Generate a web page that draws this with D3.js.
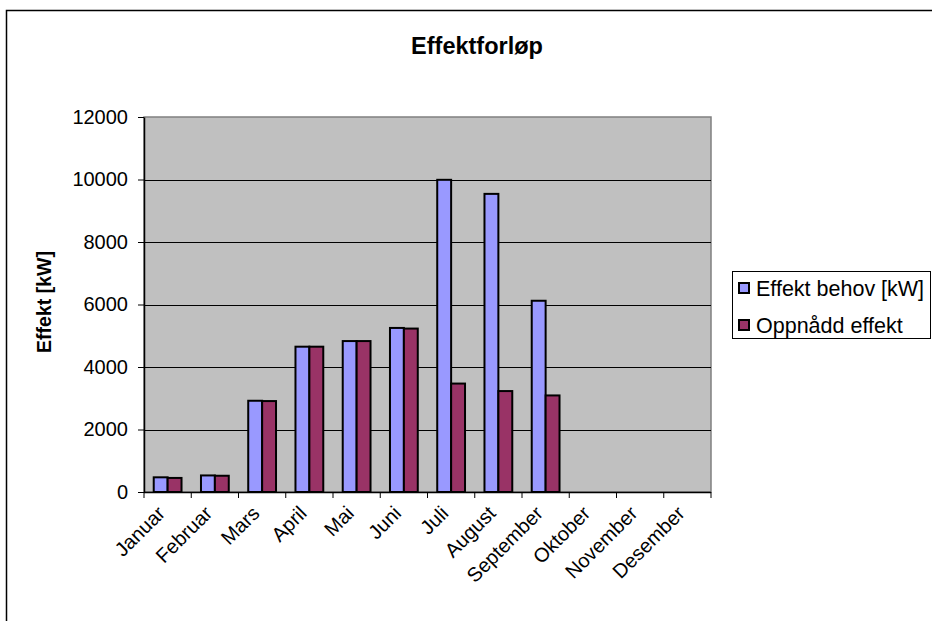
<!DOCTYPE html>
<html>
<head>
<meta charset="utf-8">
<script src="https://cdn.jsdelivr.net/npm/d3@7"></script>
<style>
  html, body { margin: 0; padding: 0; background: #fff; }
  svg { display: block; font-family: "Liberation Sans", Arial, sans-serif; }
</style>
</head>
<body>
<svg id="chart" width="932" height="621"></svg>
<script>
// Monthly power demand vs. achieved power (kW)
const months = ["Januar", "Februar", "Mars", "April", "Mai", "Juni", "Juli",
                "August", "September", "Oktober", "November", "Desember"];
const effektBehov    = [470, 530, 2920, 4650, 4830, 5250, 9990, 9540, 6120, 0, 0, 0];
const oppnaddEffekt  = [450, 520, 2910, 4650, 4830, 5230, 3470, 3230, 3090, 0, 0, 0];
const seriesNames = ["Effekt behov [kW]", "Oppnådd effekt"];
const seriesColors = ["#9999FF", "#993366"];
const yTicks = [0, 2000, 4000, 6000, 8000, 10000, 12000];

const svg = d3.select("#chart");
const plot = { left: 144, top: 117, right: 711, bottom: 492 };

// outer chart frame (runs past the right and bottom edges)
svg.append("rect")
  .attr("x", 6.5).attr("y", 10.5)
  .attr("width", 1000).attr("height", 1000)
  .attr("fill", "none").attr("stroke", "#000").attr("stroke-width", 1.5);

// title
svg.append("text")
  .attr("x", 477).attr("y", 54)
  .attr("text-anchor", "middle")
  .attr("font-size", 23.5).attr("font-weight", "bold")
  .text("Effektforløp");

const x = d3.scaleBand().domain(months).range([plot.left, plot.right]).padding(0);
const xs = d3.scaleBand().domain(seriesNames).range([0, x.bandwidth()])
  .paddingInner(0).paddingOuter(0.7);
const y = d3.scaleLinear().domain([0, 12000]).range([plot.bottom, plot.top]);

// plot area background
svg.append("rect")
  .attr("x", plot.left).attr("y", plot.top)
  .attr("width", plot.right - plot.left).attr("height", plot.bottom - plot.top)
  .attr("fill", "#C0C0C0").attr("stroke", "#808080").attr("stroke-width", 1.5);

// horizontal gridlines
svg.append("g").selectAll("line")
  .data(yTicks.filter(d => d > 0 && d < 12000))
  .join("line")
  .attr("x1", plot.left).attr("x2", plot.right)
  .attr("y1", d => Math.round(y(d)) + 0.5).attr("y2", d => Math.round(y(d)) + 0.5)
  .attr("stroke", "#000").attr("stroke-width", 1);

// bars
const data = months.map((m, i) => ({ month: m, values: [effektBehov[i], oppnaddEffekt[i]] }));
const groups = svg.append("g").selectAll("g")
  .data(data).join("g")
  .attr("transform", d => `translate(${x(d.month)},0)`);
groups.selectAll("rect")
  .data(d => d.values.map((v, j) => ({ name: seriesNames[j], value: v, color: seriesColors[j] })))
  .join("rect")
  .filter(d => d.value > 0)
  .attr("x", d => xs(d.name))
  .attr("y", d => y(d.value))
  .attr("width", xs.bandwidth())
  .attr("height", d => y(0) - y(d.value))
  .attr("fill", d => d.color)
  .attr("stroke", "#000").attr("stroke-width", 2);

// y axis
const yAxis = svg.append("g")
  .attr("transform", `translate(${plot.left},0)`)
  .call(d3.axisLeft(y).tickValues(yTicks).tickFormat(d3.format("d"))
    .tickSize(6).tickSizeOuter(0).tickPadding(10));
yAxis.select(".domain").attr("stroke", "#000").attr("stroke-width", 1.5);
yAxis.selectAll(".tick line").attr("stroke", "#000");
yAxis.selectAll(".tick text")
  .attr("font-size", 20).attr("font-family", "Liberation Sans, Arial, sans-serif")
  .attr("fill", "#000");

// x axis with ticks at category boundaries
const xAxisG = svg.append("g").attr("transform", `translate(0,${plot.bottom})`);
xAxisG.append("line")
  .attr("x1", plot.left).attr("x2", plot.right)
  .attr("y1", 0.5).attr("y2", 0.5)
  .attr("stroke", "#000").attr("stroke-width", 1.5);
xAxisG.selectAll("line.tk")
  .data(months.map(m => x(m)).concat([plot.right]))
  .join("line").attr("class", "tk")
  .attr("x1", d => d).attr("x2", d => d)
  .attr("y1", 0).attr("y2", 6)
  .attr("stroke", "#000");
xAxisG.selectAll("text")
  .data(months)
  .join("text")
  .attr("transform", d => `translate(${x(d) + x.bandwidth() / 2 - 12},12) rotate(-45)`)
  .attr("text-anchor", "end")
  .attr("dy", "0.75em")
  .attr("font-size", 20)
  .text(d => d);

// y axis title
svg.append("text")
  .attr("transform", "translate(51,302) rotate(-90)")
  .attr("text-anchor", "middle")
  .attr("font-size", 19.5).attr("font-weight", "bold")
  .text("Effekt [kW]");

// legend
const legend = svg.append("g");
legend.append("rect")
  .attr("x", 732.5).attr("y", 271.5).attr("width", 198).attr("height", 67)
  .attr("fill", "#fff").attr("stroke", "#000").attr("stroke-width", 1);
const items = legend.selectAll("g.item")
  .data(seriesNames.map((n, i) => ({ name: n, color: seriesColors[i] })))
  .join("g").attr("class", "item")
  .attr("transform", (d, i) => `translate(739,${288 + i * 37})`);
items.append("rect")
  .attr("x", 0).attr("y", -5).attr("width", 10).attr("height", 10)
  .attr("fill", d => d.color).attr("stroke", "#000").attr("stroke-width", 2);
items.append("text")
  .attr("x", 17).attr("y", 0).attr("dy", "0.35em")
  .attr("font-size", 21.5)
  .text(d => d.name);
</script>
</body>
</html>
